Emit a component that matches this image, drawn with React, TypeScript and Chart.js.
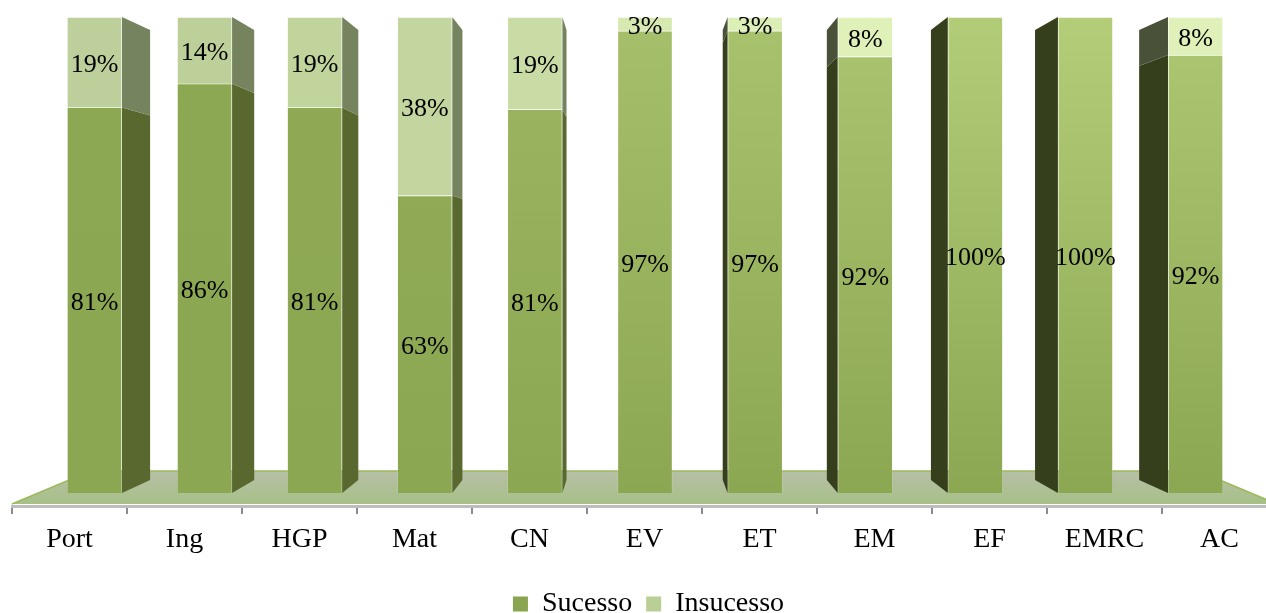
import React, { useEffect, useRef } from "react";
import { Chart, registerables } from "chart.js";

Chart.register(...registerables);

const categories = ["Port", "Ing", "HGP", "Mat", "CN", "EV", "ET", "EM", "EF", "EMRC", "AC"];
const sucesso = [81, 86, 81, 62.5, 80.6, 97.1, 97.1, 91.7, 100, 100, 92];
const insucesso = [19, 14, 19, 37.5, 19.4, 2.9, 2.9, 8.3, 0, 0, 8];

const lowerTopColors = ["#8da853", "#8da853", "#8fa955", "#92ac58", "#9cb661", "#a6bf6a", "#a9c26d", "#abc46f", "#b2cc78", "#b3cd79", "#aec772"];
const upperColors = ["#bdcf9a", "#bdd09a", "#c0d49c", "#c4d69f", "#c9dca6", "#d7e9b0", "#dcefb6", "#dff0b8", "#dff0b8", "#dff0b8", "#dff0b8"];

const SERIF = '"Liberation Serif", "DejaVu Serif", serif';
const DEPTH = 0.9455;
const VANISH_X_RATIO = 0.495;

function lowerFill(c: any) {
  const { chart, dataIndex } = c;
  const a = chart.chartArea;
  if (!a || dataIndex === undefined) return "#8ba650";
  const g = chart.ctx.createLinearGradient(0, chart.scales.y.getPixelForValue(0), 0, a.top);
  g.addColorStop(0, "#8ca752");
  g.addColorStop(1, lowerTopColors[dataIndex]);
  return g;
}

const legendShift = {
  id: "legendShift",
  afterLayout(chart: any) {
    chart.legend.left += 4;
    chart.legend.right += 4;
  },
};

const stage3d = {
  id: "stage3d",
  beforeDatasetsDraw(chart: any) {
    const { ctx, chartArea: a, scales } = chart;
    const yZero = scales.y.getPixelForValue(0);
    const yTop = scales.y.getPixelForValue(100);
    const vx = scales.xBar.left + (scales.xBar.right - scales.xBar.left) * VANISH_X_RATIO;
    const vy = yTop + (yZero - yTop) * 0.5;
    const backY = vy + (yZero - vy) * DEPTH - 9;
    const slope = 0.42;
    const floorY = a.bottom - 2;
    const h = floorY - backY;

    // floor
    ctx.save();
    const g = ctx.createLinearGradient(0, backY, 0, floorY);
    g.addColorStop(0, "#b7bfa6");
    g.addColorStop(1, "#a7c087");
    ctx.beginPath();
    ctx.moveTo(a.left, floorY);
    ctx.lineTo(a.left + h / slope, backY);
    ctx.lineTo(a.right - h / slope, backY);
    ctx.lineTo(a.right, floorY);
    ctx.closePath();
    ctx.fillStyle = g;
    ctx.fill();
    ctx.strokeStyle = "#9bbb59";
    ctx.lineWidth = 1.5;
    ctx.beginPath();
    ctx.moveTo(a.left, floorY);
    ctx.lineTo(a.left + h / slope, backY);
    ctx.lineTo(a.right - h / slope, backY);
    ctx.lineTo(a.right, floorY);
    ctx.stroke();
    ctx.restore();

    // side faces
    const px = (x: number) => vx + (x - vx) * DEPTH;
    const py = (y: number) => vy + (y - vy) * DEPTH;
    chart.data.datasets.forEach((_: any, di: number) => {
      const meta = chart.getDatasetMeta(di);
      meta.data.forEach((bar: any) => {
        const left = bar.x - bar.width / 2;
        const right = bar.x + bar.width / 2;
        const top = Math.min(bar.y, bar.base);
        const bottom = Math.max(bar.y, bar.base);
        if (bottom - top < 0.5) return;
        let edge: number | null = null;
        let fill = "";
        if (right < vx) {
          edge = right;
          fill = di === 0 ? "#58682f" : "#75845e";
        } else if (left > vx) {
          edge = left;
          fill = di === 0 ? "#363f1c" : "#4a5139";
        }
        if (edge === null) return;
        ctx.beginPath();
        ctx.moveTo(edge, top);
        ctx.lineTo(px(edge), py(top));
        ctx.lineTo(px(edge), py(bottom));
        ctx.lineTo(edge, bottom);
        ctx.closePath();
        ctx.fillStyle = fill;
        ctx.fill();
      });
    });
  },
};

const segmentLabels = {
  id: "segmentLabels",
  afterDatasetsDraw(chart: any) {
    const { ctx } = chart;
    ctx.save();
    ctx.font = `26px ${SERIF}`;
    ctx.fillStyle = "#000000";
    ctx.textAlign = "center";
    ctx.textBaseline = "middle";
    chart.data.datasets.forEach((ds: any, di: number) => {
      chart.getDatasetMeta(di).data.forEach((bar: any, i: number) => {
        const v = ds.data[i].y;
        if (!v) return;
        ctx.fillText(`${Math.round(v)}%`, bar.x, (bar.y + bar.base) / 2 + 3);
      });
    });
    ctx.restore();
  },
};

export default function App() {
  const ref = useRef<HTMLCanvasElement>(null);
  useEffect(() => {
    document.body.style.margin = "0";
    const chart = new Chart(ref.current as HTMLCanvasElement, {
      type: "bar",
      data: {
        labels: categories,
        datasets: [
          {
            label: "Sucesso",
            data: sucesso.map((y, x) => ({ x, y })),
            xAxisID: "xBar",
            backgroundColor: lowerFill,
            borderColor: "rgba(255,255,255,0.12)",
            borderWidth: 1,
            barThickness: 55,
          },
          {
            label: "Insucesso",
            data: insucesso.map((y, x) => ({ x, y })),
            xAxisID: "xBar",
            backgroundColor: (c: any) => upperColors[c.dataIndex ?? 0],
            borderColor: "rgba(255,255,255,0.12)",
            borderWidth: 1,
            barThickness: 55,
          },
        ],
      } as any,
      options: {
        animation: false,
        responsive: false,
        maintainAspectRatio: false,
        layout: { padding: { left: 12, right: 20, top: 17, bottom: 0 } },
        plugins: {
          tooltip: { enabled: false },
          legend: {
            position: "bottom",
            labels: {
              font: { family: SERIF, size: 28 },
              color: "#000000",
              boxWidth: 15,
              boxHeight: 15,
              padding: 14,
              generateLabels: () => [
                { text: "Sucesso", fillStyle: "#8aa550", strokeStyle: "#8aa550", lineWidth: 0, datasetIndex: 0 },
                { text: "Insucesso", fillStyle: "#b9cf95", strokeStyle: "#b9cf95", lineWidth: 0, datasetIndex: 1 },
              ],
            },
          },
        },
        scales: {
          x: {
            type: "category",
            position: "bottom",
            grid: {
              display: true,
              drawOnChartArea: false,
              drawTicks: true,
              tickLength: 8,
              color: "#8c8c8c",
              lineWidth: 2,
            },
            border: { display: true, color: "#bdbdbd", width: 3 },
            ticks: {
              color: "#000000",
              font: { family: SERIF, size: 28 },
              padding: 9,
              maxRotation: 0,
              autoSkip: false,
            },
            afterFit: (s: any) => {
              s.height = 70;
            },
          },
          xBar: {
            type: "linear",
            display: false,
            stacked: true,
            offset: false,
            min: -0.749,
            max: 10.74,
          },
          y: {
            display: false,
            stacked: true,
            min: -2.73,
            max: 100,
          },
        },
      } as any,
      plugins: [legendShift, stage3d, segmentLabels],
    });
    return () => chart.destroy();
  }, []);
  return (
    <div style={{ width: 1266, height: 613, overflow: "hidden", position: "relative" }}>
      <canvas ref={ref} width={1297} height={628} style={{ display: "block" }} />
    </div>
  );
}
